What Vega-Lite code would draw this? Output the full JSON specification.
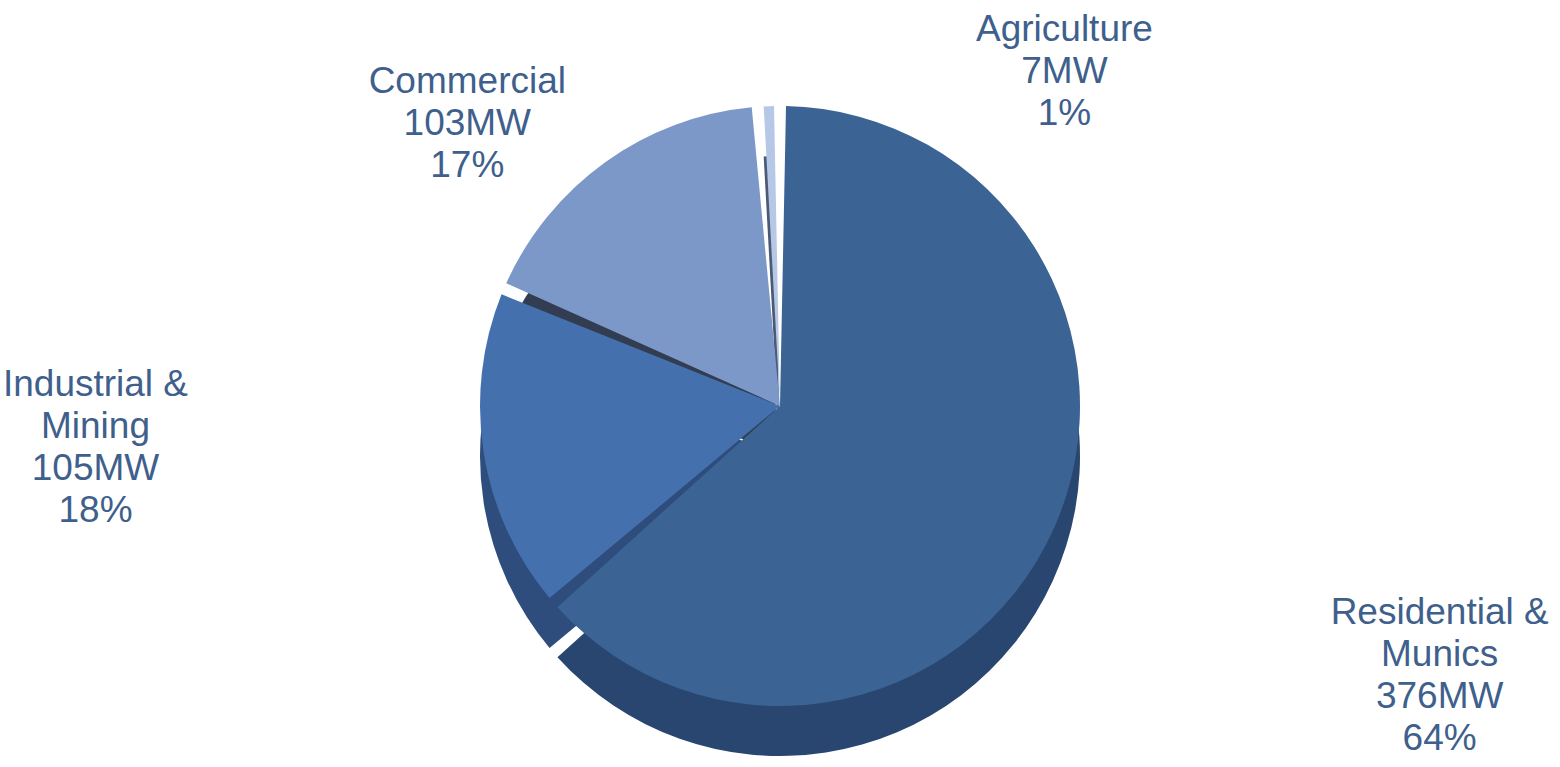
{
  "$schema": "https://vega.github.io/schema/vega-lite/v6.json",
  "width": 1560,
  "height": 722,
  "padding": {"top": 45, "left": 0, "right": 0, "bottom": 0},
  "autosize": {"type": "none"},
  "background": "white",
  "config": {"view": {"stroke": null}},
  "data": {
    "values": [
      {"sector": "Residential & Munics", "mw": 376, "rank": 1, "label": ["Residential &", "Munics", "376MW", "64%"]},
      {"sector": "Industrial & Mining", "mw": 105, "rank": 2, "label": ["Industrial &", "Mining", "105MW", "18%"]},
      {"sector": "Commercial", "mw": 103, "rank": 3, "label": ["Commercial", "103MW", "17%"]},
      {"sector": "Agriculture", "mw": 7, "rank": 4, "label": ["Agriculture", "7MW", "1%"]}
    ]
  },
  "layer": [
    {
      "mark": {"type": "arc", "outerRadius": 300, "padAngle": 0.04, "yOffset": 50},
      "encoding": {
        "theta": {"field": "mw", "type": "quantitative", "stack": true},
        "order": {"field": "rank", "type": "quantitative"},
        "color": {"field": "sector", "type": "nominal", "legend": null,
          "scale": {"domain": ["Residential & Munics", "Industrial & Mining", "Commercial", "Agriculture"],
                    "range": ["#284670", "#2E4D7C", "#333D52", "#4B5A75"]}}
      }
    },
    {
      "mark": {"type": "arc", "outerRadius": 300, "padAngle": 0.04},
      "encoding": {
        "theta": {"field": "mw", "type": "quantitative", "stack": true},
        "order": {"field": "rank", "type": "quantitative"},
        "color": {"field": "sector", "type": "nominal", "legend": null,
          "scale": {"domain": ["Residential & Munics", "Industrial & Mining", "Commercial", "Agriculture"],
                    "range": ["#3B6494", "#4570AE", "#7B98C8", "#B6C8E6"]}}
      }
    },
    {
      "mark": {"type": "text", "radius": 725, "dy": -94, "font": "Liberation Sans", "fontSize": 37, "lineHeight": 42, "color": "#3F5F8C", "align": "center", "baseline": "middle"},
      "encoding": {
        "theta": {"field": "mw", "type": "quantitative", "stack": true},
        "order": {"field": "rank", "type": "quantitative"},
        "text": {"field": "label", "condition": {"test": "datum.rank !== 1", "value": ""}}
      }
    },
    {
      "mark": {"type": "text", "radius": 693, "dy": -129, "font": "Liberation Sans", "fontSize": 37, "lineHeight": 42, "color": "#3F5F8C", "align": "center", "baseline": "middle"},
      "encoding": {
        "theta": {"field": "mw", "type": "quantitative", "stack": true},
        "order": {"field": "rank", "type": "quantitative"},
        "text": {"field": "label", "condition": {"test": "datum.rank !== 2", "value": ""}}
      }
    },
    {
      "mark": {"type": "text", "radius": 420, "dx": -68, "dy": 17, "font": "Liberation Sans", "fontSize": 37, "lineHeight": 42, "color": "#3F5F8C", "align": "center", "baseline": "middle"},
      "encoding": {
        "theta": {"field": "mw", "type": "quantitative", "stack": true},
        "order": {"field": "rank", "type": "quantitative"},
        "text": {"field": "label", "condition": {"test": "datum.rank !== 3", "value": ""}}
      }
    },
    {
      "mark": {"type": "text", "radius": 338, "dx": 297, "dy": -38, "font": "Liberation Sans", "fontSize": 37, "lineHeight": 42, "color": "#3F5F8C", "align": "center", "baseline": "middle"},
      "encoding": {
        "theta": {"field": "mw", "type": "quantitative", "stack": true},
        "order": {"field": "rank", "type": "quantitative"},
        "text": {"field": "label", "condition": {"test": "datum.rank !== 4", "value": ""}}
      }
    }
  ],
  "resolve": {"scale": {"color": "independent"}}
}
